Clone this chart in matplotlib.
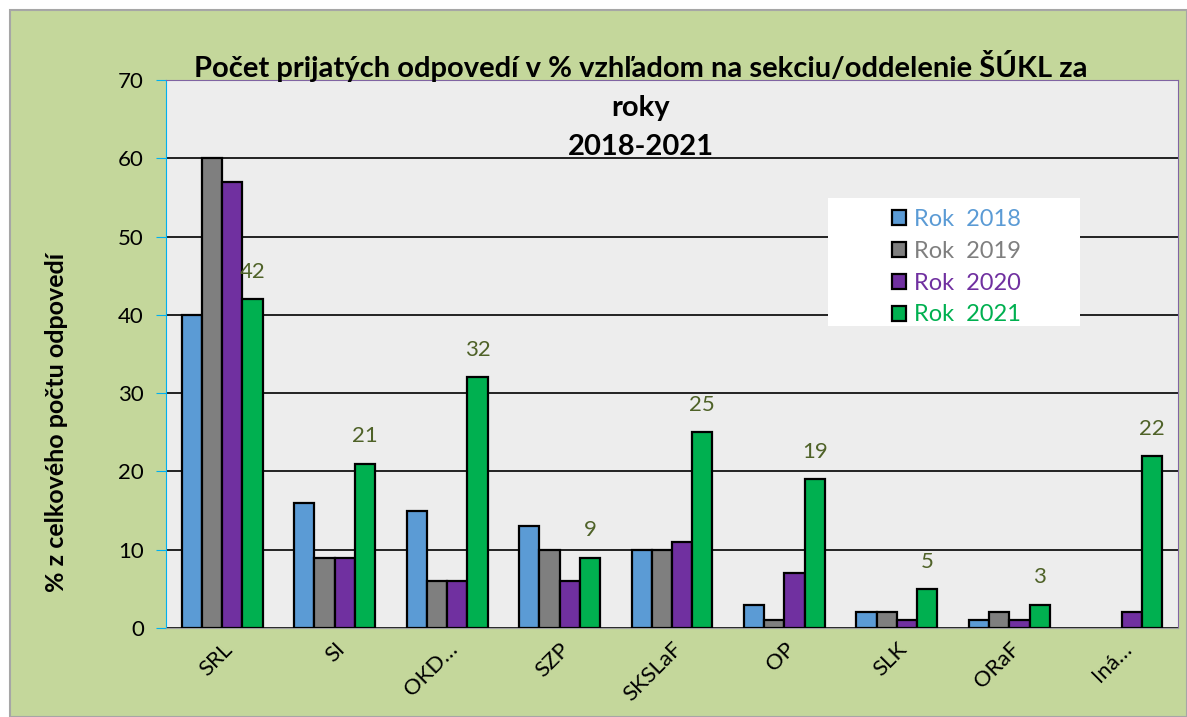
import numpy as np
import matplotlib.pyplot as plt
from matplotlib.patches import Rectangle

plt.rcParams['font.family'] = ['Lato', 'DejaVu Sans']

# Data
categories = ['SRL', 'SI', 'OKD…', 'SZP', 'SKSLaF', 'OP', 'SLK', 'ORaF', 'Iná…']
years = ['Rok  2018', 'Rok  2019', 'Rok  2020', 'Rok  2021']
rok2018 = [40, 16, 15, 13, 10, 3, 2, 1, np.nan]
rok2019 = [60, 9, 6, 10, 10, 1, 2, 2, np.nan]
rok2020 = [57, 9, 6, 6, 11, 7, 1, 1, 2]
rok2021 = [42, 21, 32, 9, 25, 19, 5, 3, 22]
series = [rok2018, rok2019, rok2020, rok2021]
colors = ['#5B9BD5', '#7F7F7F', '#7030A0', '#00B050']

W, H = 1187, 717
fig = plt.figure(figsize=(W / 100, H / 100), dpi=100)
fig.patch.set_facecolor('white')
# green chart area with gray border
fig.patches.append(Rectangle((10 / W, 0), 1 - 10 / W, 1 - 10 / H, transform=fig.transFigure,
                             facecolor='#C4D79B', edgecolor='#A6A6A6', lw=1.5, zorder=-10))

ax = fig.add_axes([166 / W, 1 - 628 / H, (1178 - 166) / W, (628 - 80) / H])
ax.set_facecolor('#EDEDED')

x = np.arange(len(categories))
bw = 0.18
for i, (vals, c) in enumerate(zip(series, colors)):
    ax.bar(x + (i - 1.5) * bw, vals, bw, color=c, edgecolor='black', lw=1.6,
           label=years[i], zorder=3)

# data labels for 2021
for xi, v in zip(x, rok2021):
    ax.text(xi + 1.5 * bw, v + 2.2, str(v), ha='center', va='bottom',
            fontsize=16, color='#4F6228', zorder=4)

ax.set_xlim(-0.5, len(categories) - 0.5)
ax.set_ylim(0, 70)
ax.set_yticks(range(0, 71, 10))
ax.yaxis.grid(True, color='black', lw=1.2, zorder=1)
ax.set_axisbelow(True)
ax.tick_params(axis='y', labelsize=16, length=7, color='#00B0F0', pad=9)
ax.tick_params(axis='x', length=0, pad=8)
ax.set_xticks(x)
ax.set_xticklabels(categories, rotation=45, ha='right', rotation_mode='anchor',
                   fontsize=16)
ax.spines['left'].set_color('#00B0F0')
ax.spines['left'].set_linestyle((0, (2, 1)))
ax.spines['bottom'].set_color('#9E9E9E')
ax.spines['bottom'].set_linestyle((0, (2, 1)))
ax.spines['top'].set_color('#8064A2')
ax.spines['top'].set_linestyle((0, (2, 1)))
ax.spines['right'].set_color('#8064A2')
ax.spines['right'].set_linestyle((0, (2, 1)))

ax.set_ylabel('% z celkového počtu odpovedí', fontsize=18, fontweight='bold')
ax.yaxis.set_label_coords(-0.097, 0.376)

# legend with white box
ax.add_patch(Rectangle((0.654, 0.551), 0.249, 0.234, transform=ax.transAxes,
                       facecolor='white', edgecolor='none', zorder=5))
leg = ax.legend(loc='upper left', bbox_to_anchor=(0.708, 0.782), frameon=False,
                fontsize=17, handlelength=0.6, handleheight=0.6, handletextpad=0.35,
                labelspacing=0.46, borderaxespad=0)
leg.set_zorder(6)
for t, c in zip(leg.get_texts(), colors):
    t.set_color(c)

fig.text(641 / W, 1 - 105 / H,
         'Počet prijatých odpovedí v % vzhľadom na sekciu/oddelenie ŠÚKL za\nroky\n2018-2021',
         ha='center', va='center', fontsize=21, fontweight='bold', linespacing=1.62,
         transform=fig.transFigure)

fig.savefig('out.png', dpi=100)
